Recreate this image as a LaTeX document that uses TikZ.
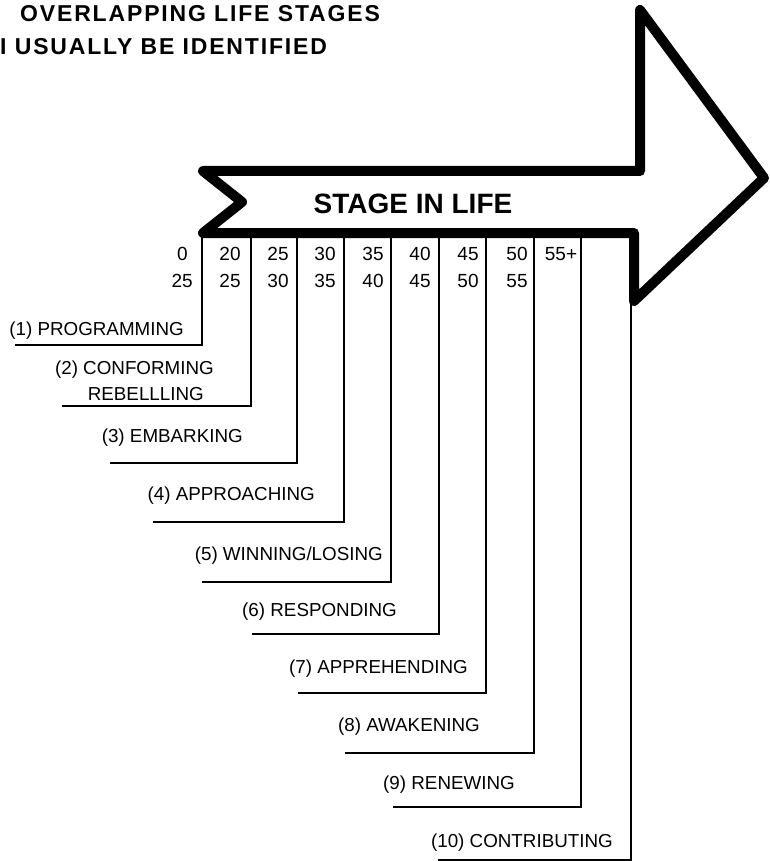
\documentclass[tikz,border=0pt]{standalone}
\usepackage{fontspec}
\setmainfont{Liberation Sans}
\tikzset{
	bigarrow/.style={line width=10pt,line join=round},
	stageline/.style={line width=1.2pt},
	stagelabel/.style={anchor=base east,inner sep=0pt,font=\fontsize{18.8}{20}\selectfont},
	agenum/.style={anchor=base,inner sep=0pt,font=\fontsize{19}{20}\selectfont},
	titletext/.style={anchor=base west,inner sep=0pt,font=\fontsize{23}{24}\selectfont\bfseries\addfontfeature{LetterSpace=8}}
}
\begin{document}
\begin{tikzpicture}[x=1pt,y=-1pt]
	\useasboundingbox (0,0) rectangle (770,861);
	% title, cut at the left edge
	\node[titletext] (title1) at (20,22) {OVERLAPPING LIFE STAGES};
	\node[titletext] (title2) at (0,55) {I USUALLY BE IDENTIFIED};
	% the big arrow
	\draw[bigarrow] (203,171) -- (640,171) -- (640,10) -- (764,178) -- (634,301)
		-- (634,233) -- (203,233) -- (242,202) -- cycle;
	\node[font=\fontsize{28}{30}\selectfont\bfseries] (stage) at (413,204) {STAGE IN LIFE};
	% tops of the stage lines
	\coordinate (t1) at (202,233);
	\coordinate (t2) at (251,236);
	\coordinate (t3) at (297,236);
	\coordinate (t4) at (344,236);
	\coordinate (t5) at (391,236);
	\coordinate (t6) at (439,236);
	\coordinate (t7) at (486,236);
	\coordinate (t8) at (534,236);
	\coordinate (t9) at (581,236);
	\coordinate (t10) at (631,300);
	% left ends of the stage lines
	\coordinate (e1) at (15,345);
	\coordinate (e2) at (62,406);
	\coordinate (e3) at (110,463);
	\coordinate (e4) at (153,522);
	\coordinate (e5) at (202,582);
	\coordinate (e6) at (252,634);
	\coordinate (e7) at (298,693);
	\coordinate (e8) at (345,753);
	\coordinate (e9) at (393,807);
	\coordinate (e10) at (438,860);
	% age columns
	\node[agenum,anchor=base east] (a1) at (188,260) {0};
	\node[agenum,anchor=base east] (b1) at (193,287) {25};
	\node[agenum] (a2) at (230,260) {20};
	\node[agenum] (b2) at (230,287) {25};
	\node[agenum] (a3) at (278,260) {25};
	\node[agenum] (b3) at (278,287) {30};
	\node[agenum] (a4) at (325,260) {30};
	\node[agenum] (b4) at (325,287) {35};
	\node[agenum] (a5) at (373,260) {35};
	\node[agenum] (b5) at (373,287) {40};
	\node[agenum] (a6) at (420,260) {40};
	\node[agenum] (b6) at (420,287) {45};
	\node[agenum] (a7) at (468,260) {45};
	\node[agenum] (b7) at (468,287) {50};
	\node[agenum] (a8) at (517,260) {50};
	\node[agenum] (b8) at (517,287) {55};
	\node[agenum] (a9) at (561,260) {55+};
	% stage lines
	\draw[stageline] (t1) |- (e1);
	\draw[stageline] (t2) |- (e2);
	\draw[stageline] (t3) |- (e3);
	\draw[stageline] (t4) |- (e4);
	\draw[stageline] (t5) |- (e5);
	\draw[stageline] (t6) |- (e6);
	\draw[stageline] (t7) |- (e7);
	\draw[stageline] (t8) |- (e8);
	\draw[stageline] (t9) |- (e9);
	\draw[stageline] (t10) |- (e10);
	% stage names
	\node[stagelabel] (s1) at (184,335) {(1) PROGRAMMING};
	\node[stagelabel] (s2) at (214,374) {(2) CONFORMING};
	\node[stagelabel] (s2b) at (204,400) {REBELLLING};
	\node[stagelabel] (s3) at (243,442) {(3) EMBARKING};
	\node[stagelabel] (s4) at (315,500) {(4) APPROACHING};
	\node[stagelabel] (s5) at (383,560) {(5) WINNING/LOSING};
	\node[stagelabel] (s6) at (397,616) {(6) RESPONDING};
	\node[stagelabel] (s7) at (468,673) {(7) APPREHENDING};
	\node[stagelabel] (s8) at (480,731) {(8) AWAKENING};
	\node[stagelabel] (s9) at (515,789) {(9) RENEWING};
	\node[stagelabel] (s10) at (613,847) {(10) CONTRIBUTING};
\end{tikzpicture}
\end{document}
